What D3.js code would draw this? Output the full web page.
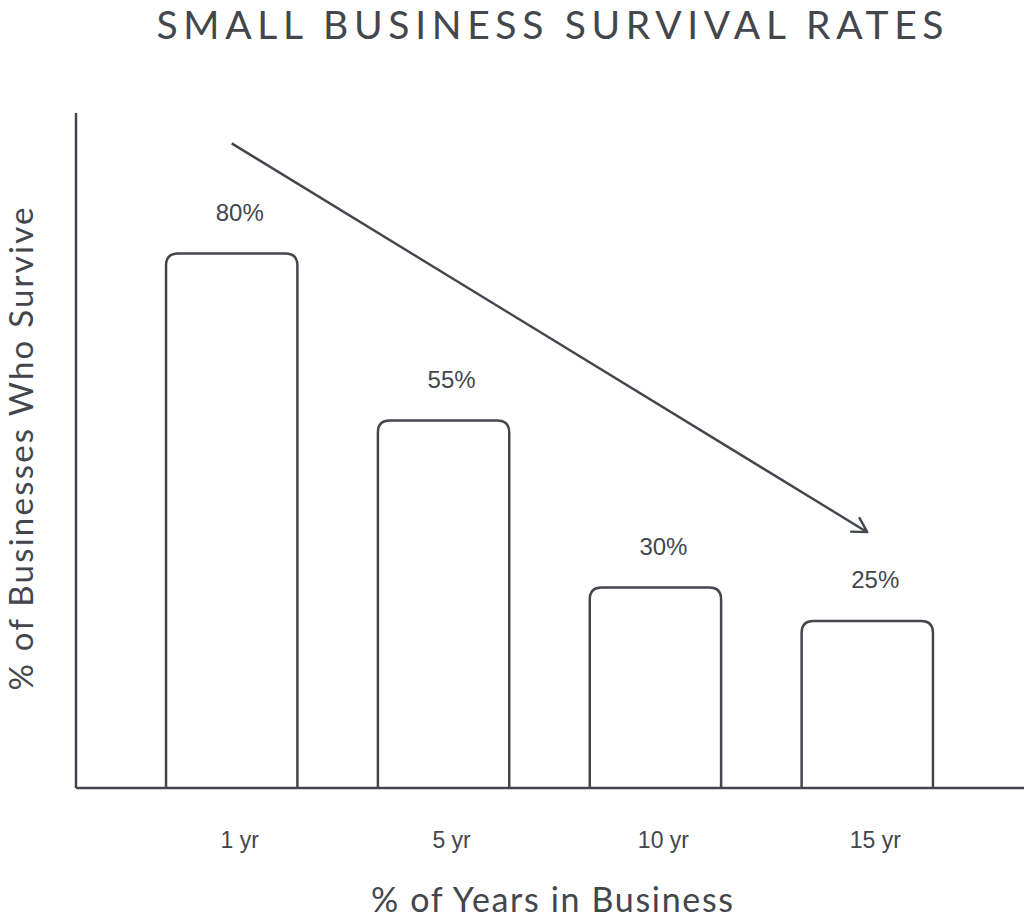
<!DOCTYPE html>
<html>
<head>
<meta charset="utf-8">
<script src="https://cdn.jsdelivr.net/npm/d3@7"></script>
<style>
  body { margin: 0; background: #fff; }
  svg { display: block; }
</style>
</head>
<body>
<div id="chart"></div>
<script>
// data
const years = ["1 yr", "5 yr", "10 yr", "15 yr"];
const survival = [80, 55, 30, 25];
const valueLabels = ["80%", "55%", "30%", "25%"];
// trend arrow: from 1 yr at ~96.5% down to 15 yr at ~38%
const trendFrom = ["1 yr", 96.5];
const trendTo = ["15 yr", 38.3];

const W = 1024, H = 920;
const ink = "#43464c";

const svg = d3.select("#chart")
  .append("svg")
    .attr("width", W)
    .attr("height", H);

const x = d3.scaleBand()
  .domain(years)
  .range([76, 1023])
  .paddingInner(0.38)
  .paddingOuter(0.425);

const y = d3.scaleLinear()
  .domain([0, 100])
  .range([788, 120]);

// arrow marker
svg.append("defs").append("marker")
    .attr("id", "arrow")
    .attr("viewBox", "0 0 20 20")
    .attr("refX", 18)
    .attr("refY", 10)
    .attr("markerWidth", 20)
    .attr("markerHeight", 20)
    .attr("markerUnits", "userSpaceOnUse")
    .attr("orient", "auto")
  .append("path")
    .attr("d", "M4,2 L18,10 L4,18")
    .attr("fill", "none")
    .attr("stroke", ink)
    .attr("stroke-width", 2.4)
    .attr("stroke-linecap", "round")
    .attr("stroke-linejoin", "round");

// bars: outlined, rounded top corners
const r = 12;
function barPath(d, i) {
  const x0 = x(years[i]), x1 = x0 + x.bandwidth();
  const yt = y(d), yb = y(0);
  return `M${x0},${yb} V${yt + r} Q${x0},${yt} ${x0 + r},${yt} H${x1 - r} Q${x1},${yt} ${x1},${yt + r} V${yb}`;
}

svg.append("g")
  .selectAll("path")
  .data(survival)
  .join("path")
    .attr("d", barPath)
    .attr("fill", "none")
    .attr("stroke", ink)
    .attr("stroke-width", 2.5);

// value labels
svg.append("g")
  .selectAll("text")
  .data(survival)
  .join("text")
    .attr("x", (d, i) => x(years[i]) + x.bandwidth() / 2 + 8)
    .attr("y", d => y(d) - 33)
    .attr("text-anchor", "middle")
    .attr("font-family", "Liberation Sans, Arial, sans-serif")
    .attr("font-size", 24)
    .attr("fill", ink)
    .text((d, i) => valueLabels[i]);

// axes
const xAxis = svg.append("g")
  .attr("transform", `translate(0,${y(0)})`)
  .call(d3.axisBottom(x).tickSize(0).tickPadding(44));
xAxis.select(".domain")
  .attr("d", `M76,0 H${W}`)
  .attr("stroke", ink)
  .attr("stroke-width", 2.5);
xAxis.selectAll(".tick text")
  .attr("dx", 8)
  .attr("font-family", "Liberation Sans, Arial, sans-serif")
  .attr("font-size", 23)
  .attr("fill", ink);

const yAxis = svg.append("g")
  .attr("transform", "translate(76,0)")
  .call(d3.axisLeft(y).ticks(0).tickSize(0));
yAxis.select(".domain")
  .attr("d", `M0,113 V${y(0)}`)
  .attr("stroke", ink)
  .attr("stroke-width", 2.5);

// trend arrow
svg.append("line")
  .attr("x1", x(trendFrom[0]) + x.bandwidth() / 2)
  .attr("y1", y(trendFrom[1]))
  .attr("x2", x(trendTo[0]) + x.bandwidth() / 2)
  .attr("y2", y(trendTo[1]))
  .attr("stroke", ink)
  .attr("stroke-width", 2.4)
  .attr("marker-end", "url(#arrow)");

// title and axis titles
svg.append("text")
  .attr("x", 550)
  .attr("y", 39)
  .attr("text-anchor", "middle")
  .attr("font-family", "Lato, sans-serif")
  .attr("font-size", 39)
  .attr("textLength", 787)
  .attr("lengthAdjust", "spacing")
  .attr("fill", ink)
  .text("SMALL BUSINESS SURVIVAL RATES");

svg.append("text")
  .attr("x", 552)
  .attr("y", 912)
  .attr("text-anchor", "middle")
  .attr("font-family", "Lato, sans-serif")
  .attr("font-size", 34)
  .attr("textLength", 362)
  .attr("lengthAdjust", "spacing")
  .attr("fill", ink)
  .text("% of Years in Business");

svg.append("text")
  .attr("transform", "translate(33,449) rotate(-90)")
  .attr("text-anchor", "middle")
  .attr("font-family", "Lato, sans-serif")
  .attr("font-size", 33)
  .attr("textLength", 483)
  .attr("lengthAdjust", "spacing")
  .attr("fill", ink)
  .text("% of Businesses Who Survive");
</script>
</body>
</html>
